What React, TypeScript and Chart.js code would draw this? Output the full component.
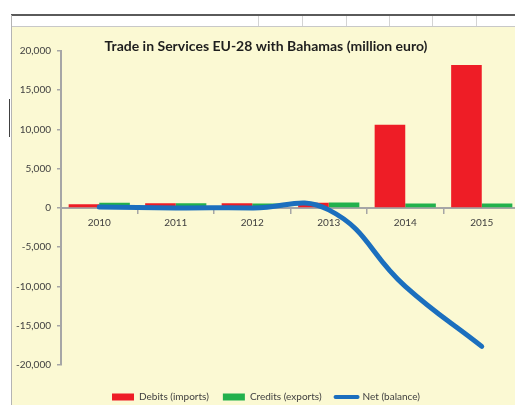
import React, { useEffect, useRef } from "react";
import { Chart, registerables } from "chart.js";

Chart.register(...registerables);

const years = ["2010", "2011", "2012", "2013", "2014", "2015"];
const debits = [450, 600, 600, 650, 10600, 18200];
const credits = [650, 600, 550, 700, 550, 550];
const net = [100, 0, 0, -250, -10000, -17650];
const seriesLabels = ["Debits (imports)", "Credits (exports)", "Net (balance)"];
const titleText = "Trade in Services EU-28 with Bahamas (million euro)";
const yMin = -20000;
const yMax = 20000;
const yStep = 5000;

const RED = "#EE1D26";
const GREEN = "#22B14C";
const BLUE = "#1B6FBE";
const AXIS = "#A6A6A6";
const TEXT = "#404040";
const FONT = "Lato, 'Open Sans', sans-serif";

const titlePlugin = {
  id: "excelTitle",
  afterDraw(chart: any) {
    const ctx = chart.ctx;
    ctx.save();
    ctx.font = `bold 14px ${FONT}`;
    ctx.fillStyle = "#1E1E1E";
    ctx.textAlign = "center";
    ctx.textBaseline = "middle";
    ctx.fillText(titleText, chart.width / 2, 19.5);
    ctx.restore();
  },
};

export default function App() {
  const ref = useRef<HTMLCanvasElement | null>(null);

  useEffect(() => {
    if (!ref.current) return;
    const chart = new Chart(ref.current, {
      type: "bar",
      data: {
        labels: years,
        datasets: [
          {
            type: "bar",
            label: seriesLabels[0],
            data: debits,
            backgroundColor: RED,
            borderColor: RED,
            borderWidth: 0,
            barPercentage: 1,
            categoryPercentage: 0.8,
            order: 2,
          },
          {
            type: "bar",
            label: seriesLabels[1],
            data: credits,
            backgroundColor: GREEN,
            borderColor: GREEN,
            borderWidth: 0,
            barPercentage: 1,
            categoryPercentage: 0.8,
            order: 3,
          },
          {
            type: "line",
            label: seriesLabels[2],
            data: net,
            borderColor: BLUE,
            backgroundColor: BLUE,
            borderWidth: 5,
            pointRadius: 0,
            tension: 0.45,
            fill: false,
            borderCapStyle: "round",
            order: 0,
          } as any,
        ],
      },
      options: {
        responsive: false,
        animation: false,
        layout: { padding: { top: 24, bottom: 0, left: 0, right: 0 } },
        scales: {
          x: {
            position: { y: 0 } as any,
            ticks: { color: TEXT, font: { family: FONT, size: 10 }, padding: 4 },
            grid: {
              offset: true,
              drawOnChartArea: false,
              drawTicks: true,
              tickLength: 5,
              color: AXIS,
              lineWidth: 1.5,
            },
            border: { color: AXIS, width: 2 },
          },
          y: {
            min: yMin,
            max: yMax,
            ticks: {
              stepSize: yStep,
              color: TEXT,
              font: { family: FONT, size: 10 },
              padding: 6,
            },
            grid: {
              drawOnChartArea: false,
              drawTicks: true,
              tickLength: 4,
              color: AXIS,
              lineWidth: 1.5,
            },
            border: { color: AXIS, width: 2 },
            afterFit: (s: any) => {
              s.width = 49;
            },
          },
        },
        plugins: {
          tooltip: { enabled: false },
          legend: {
            position: "bottom",
            align: "center",
            title: { display: true, text: " ", padding: { top: 12, bottom: 0 }, font: { size: 1 } },
            labels: {
              usePointStyle: true,
              pointStyleWidth: 22,
              boxHeight: 7,
              padding: 14,
              color: TEXT,
              font: { family: FONT, size: 10 },
              generateLabels: (c: any) =>
                c.data.datasets.map((ds: any, i: number) => ({
                  text: ds.label,
                  fillStyle: ds.backgroundColor,
                  strokeStyle: ds.borderColor,
                  lineWidth: i === 2 ? 4 : 0,
                  lineCap: "round",
                  pointStyle: i === 2 ? "line" : "rect",
                  hidden: false,
                  datasetIndex: i,
                  fontColor: TEXT,
                })),
            },
          },
        },
      },
      plugins: [titlePlugin],
    });
    return () => chart.destroy();
  }, []);

  const vlines = [258, 302, 346, 389, 432, 476];

  return (
    <div
      style={{
        position: "fixed",
        left: 0,
        top: 0,
        width: 515,
        height: 405,
        overflow: "hidden",
        background: "#FFFFFF",
      }}
    >
      <div style={{ position: "absolute", left: 12, top: 27, width: 503, height: 378, background: "#FBF9D3" }} />
      <div style={{ position: "absolute", left: 11, top: 14, width: 504, height: 2, background: "#5A5A5A" }} />
      <div style={{ position: "absolute", left: 11, top: 26, width: 504, height: 1, background: "#C8C8C8" }} />
      {vlines.map((x) => (
        <div key={x} style={{ position: "absolute", left: x, top: 16, width: 1, height: 10, background: "#D4D4D4" }} />
      ))}
      <div style={{ position: "absolute", left: 11, top: 15, width: 1, height: 390, background: "#B4B4B4" }} />
      <div style={{ position: "absolute", left: 9, top: 99, width: 1, height: 38, background: "#404040" }} />
      <canvas
        ref={ref}
        width={508}
        height={385}
        style={{ position: "absolute", left: 12, top: 27, width: 508, height: 385 }}
      />
    </div>
  );
}
